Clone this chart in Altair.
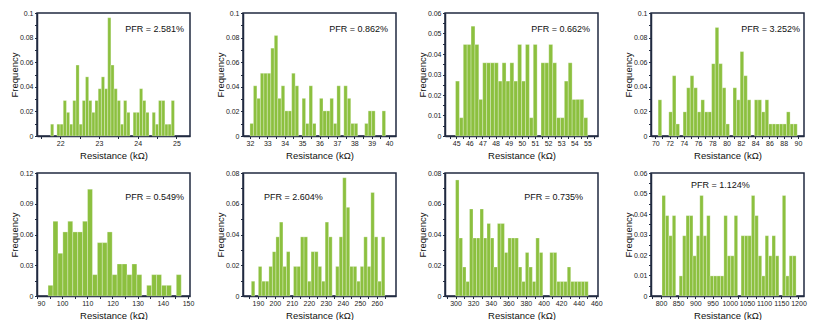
import altair as alt
import pandas as pd

# ---- data (bin counts, sample sizes, bin layout) ----
p1_counts = [1,0,1,1,3,2,1,3,6,1,3,5,3,2,3,4,5,4,10,6,4,3,1,3,2,0,2,2,4,3,2,0,2,1,3,3,1,1,3]
p2_counts = [1,4,3,5,5,5,7,8,3,4,2,2,5,4,0,3,1,4,1,0,3,2,2,3,1,4,0,4,3,1,1,0,0,1,2,2,0,0,2]
p3_counts = [3,1,5,5,6,5,2,4,4,4,4,3,4,3,4,3,5,3,5,1,5,0,4,4,5,4,1,1,3,4,2,2,2,1]
p4_counts = [3,0,0,2,5,1,0,2,4,5,4,2,3,2,2,6,9,6,4,1,0,4,3,7,5,3,0,3,3,2,3,1,1,1,1,1,2,1,1]
p5_counts = [1,7,4,6,7,6,6,7,10,2,5,5,6,2,3,3,2,3,2,0,1,2,2,1,1,0,2]
p6_counts = [1,0,2,1,1,2,3,4,5,2,3,0,2,2,4,4,1,3,3,2,1,5,4,0,2,4,8,6,2,2,1,2,4,2,7,4,1,4]
p7_counts = [8,4,2,1,6,4,4,6,4,5,4,2,5,5,3,4,4,4,2,1,3,2,1,4,3,0,0,3,3,1,1,1,2,1,1,1,1,1]
p8_counts = [5,4,3,4,0,1,3,4,4,2,3,5,3,4,1,1,1,1,4,2,2,4,0,3,3,3,5,4,2,1,3,2,3,2,0,5,1,2,2]

sample_n = [104, 98, 112, 102, 96, 104, 106, 102]
bin_start = [21.75, 32.0, 44.95, 70.4, 94.4, 186.1, 300.0, 803.0]
bin_width = [0.082, 0.2, 0.296, 0.5, 1.96, 2.07, 3.97, 10.0]

x_domains = [[21.4, 25.35], [31.6, 40.4], [44.15, 55.8], [69.4, 90.85],
             [90, 150.8], [181.2, 271.3], [288, 462], [771, 1216]]
x_ticks = [[22, 23, 24, 25],
           [32, 33, 34, 35, 36, 37, 38, 39, 40],
           [45, 46, 47, 48, 49, 50, 51, 52, 53, 54, 55],
           [70, 72, 74, 76, 78, 80, 82, 84, 86, 88, 90],
           [90, 100, 110, 120, 130, 140, 150],
           [190, 200, 210, 220, 230, 240, 250, 260],
           [300, 320, 340, 360, 380, 400, 420, 440, 460],
           [800, 850, 900, 950, 1000, 1050, 1100, 1150, 1200]]
y_ticks = [[0, 0.02, 0.04, 0.06, 0.08, 0.1],
           [0, 0.02, 0.04, 0.06, 0.08, 0.1],
           [0, 0.01, 0.02, 0.03, 0.04, 0.05, 0.06],
           [0, 0.02, 0.04, 0.06, 0.08, 0.1],
           [0, 0.03, 0.06, 0.09, 0.12],
           [0, 0.02, 0.04, 0.06, 0.08],
           [0, 0.02, 0.04, 0.06, 0.08],
           [0, 0.01, 0.02, 0.03, 0.04, 0.05, 0.06]]
pfr_labels = ["PFR = 2.581%", "PFR = 0.862%", "PFR = 0.662%", "PFR = 3.252%",
              "PFR = 0.549%", "PFR = 2.604%", "PFR = 0.735%", "PFR = 1.124%"]

all_counts = [p1_counts, p2_counts, p3_counts, p4_counts,
              p5_counts, p6_counts, p7_counts, p8_counts]

# ---- layout / style ----
W, H = 153, 123
FONT = "Liberation Sans"
BAR = "#8cc03f"
LINE = "#202a40"
# label placement inside each panel (pixels from plot origin)
txt_pos = [(147, 16, "right"), (145, 16, "right"), (145, 16, "right"), (149, 16, "right"),
           (147, 24, "right"), (21, 24, "left"), (138, 24, "right"), (40, 12, "left")]


def with_minor(majors, dom):
    vals = list(majors)
    step = majors[1] - majors[0]
    for a in [majors[0] - step] + majors:
        m = a + step / 2
        if dom[0] <= m <= dom[1]:
            vals.append(m)
    return sorted(round(v, 6) for v in vals if dom[0] <= v <= dom[1])


def is_major(step):
    return f"abs(datum.value/{step} - round(datum.value/{step})) < 0.001"


def panel(i):
    counts = all_counts[i]
    n = sample_n[i]
    starts = [bin_start[i] + k * bin_width[i] for k in range(len(counts))]
    df = pd.DataFrame({
        "start": starts,
        "end": [s + bin_width[i] for s in starts],
        "freq": [c / n for c in counts],
    })
    df = df[df["freq"] > 0]
    xt = x_ticks[i]
    yt = y_ticks[i]
    xstep = xt[1] - xt[0]
    ystep = round(yt[1] - yt[0], 6)
    xdom = x_domains[i]
    ydom = [0, yt[-1]]

    xaxis = alt.Axis(
        values=with_minor(xt, xdom),
        labelExpr=f"{is_major(xstep)} ? format(datum.value, '~g') : ''",
        tickSize=2.5, domain=True, domainColor=LINE, domainWidth=1.5,
        labelPadding=0.5, titlePadding=4,
        title="Resistance (kΩ)", labelOverlap=False,
    )
    yaxis = alt.Axis(
        values=with_minor(yt, ydom),
        labelExpr=f"{is_major(ystep)} ? format(datum.value, '~g') : ''",
        tickSize=2.5, domain=True, domainColor=LINE, domainWidth=1.5,
        labelPadding=1.5, titlePadding=0,
        title="Frequency", labelOverlap=False,
    )
    bars = alt.Chart(df).mark_bar(
        color=BAR, stroke="white", strokeWidth=0.4, strokeOpacity=0.7
    ).encode(
        x=alt.X("start:Q", scale=alt.Scale(domain=xdom, nice=False, zero=False), axis=xaxis),
        x2="end:Q",
        y=alt.Y("freq:Q", scale=alt.Scale(domain=ydom, nice=False), axis=yaxis),
        y2=alt.datum(0),
    )
    tx, ty, al = txt_pos[i]
    txt = alt.Chart(pd.DataFrame({"t": [pfr_labels[i]]})).mark_text(
        align=al, baseline="middle", font=FONT, fontSize=9, color="#111"
    ).encode(x=alt.value(tx), y=alt.value(ty), text="t:N")
    return (bars + txt).properties(width=W, height=H)


chart = alt.concat(
    *[panel(i) for i in range(8)], columns=4, spacing={"row": 7, "column": 19}
).properties(
    padding={"left": 0, "top": 0, "right": 0, "bottom": 0}
).configure_view(
    stroke=LINE, strokeWidth=1.5
).configure_axis(
    grid=False, tickColor=LINE, tickWidth=1,
    labelFont=FONT, labelFontSize=7, labelColor="#222",
    titleFont=FONT, titleFontSize=9.5, titleFontWeight="normal", titleColor="#111",
)

chart.save("out.html", embed_options={"renderer": "svg", "actions": False})
